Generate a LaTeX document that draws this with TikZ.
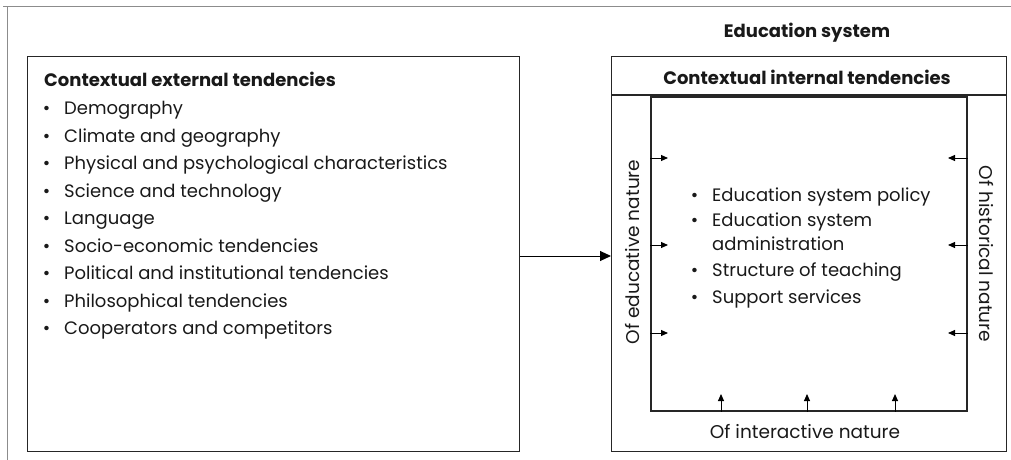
\documentclass[tikz,border=0pt]{standalone}
\usepackage{fontspec}
\setmainfont{Poppins}
\usetikzlibrary{arrows.meta}
\newcommand{\bul}{\llap{•\hspace{14pt}}}
\begin{document}
\begin{tikzpicture}[x=1pt,y=-1pt,
  box/.style={draw=black!85,line width=1.3pt},
  frame/.style={draw=black!45,line width=1pt},
  tip/.style={-{Triangle[length=7pt,width=6pt]},line width=1pt},
  item/.style={anchor=base west,font=\fontsize{18}{21}\selectfont,inner sep=0pt,text=black!90},
  lbl/.style={font=\fontsize{18.5}{21}\selectfont,inner sep=0pt,text=black!90},
  head/.style={font=\fontsize{18}{21}\selectfont\bfseries,inner sep=0pt,text=black!90}]
\useasboundingbox (0,0) rectangle (1011,460);
% open outer frame
\draw[frame] (3,7) -- (1011,7);
\draw[frame] (7,7) -- (7,460);
% left box: external tendencies
\node[box,minimum width=492pt,minimum height=395pt,anchor=north west] (ext) at (27,56) {};
\node[head,anchor=base west] (exth) at (44,86.5) {Contextual external tendencies};
\foreach \t [count=\i] in {Demography,Climate and geography,Physical and psychological characteristics,Science and technology,Language,Socio-economic tendencies,Political and institutional tendencies,Philosophical tendencies,Cooperators and competitors}
  \node[item] (e\i) at (64,{87+27.5*\i}) {\bul\t};
% right box: education system
\node[head] (sys) at (807,33) {Education system};
\node[box,minimum width=395pt,minimum height=395pt,anchor=north west] (edu) at (611,56) {};
\draw[box] (edu.west |- 0,95) -- (edu.east |- 0,95);
\node[head] (inth) at (807,77) {Contextual internal tendencies};
\node[box,line width=1.6pt,minimum width=316pt,minimum height=314pt,anchor=north west] (core) at (650,96) {};
% inner items
\node[item] (i1) at (712,201.5) {\bul Education system policy};
\node[item] (i2) at (712,226.5) {\bul Education system};
\node[item] (i2b) at (712,250.5) {administration};
\node[item] (i3) at (712,276.5) {\bul Structure of teaching};
\node[item] (i4) at (712,303.5) {\bul Support services};
% side labels
\node[lbl,rotate=90] (ledu) at (633,252) {Of educative nature};
\node[lbl,rotate=-90] (lhis) at (986,254) {Of historical nature};
\node[lbl] (lint) at (805,432) {Of interactive nature};
% main connector
\draw[line width=1pt,-{Triangle[length=11pt,width=10pt]}] (ext.east |- 0,256) -- (edu.west |- 0,256);
% small influence arrows
\foreach \y [count=\k] in {158,245,333}{
  \coordinate (la\k) at (668,\y);
  \coordinate (ra\k) at (948,\y);
  \draw[tip] (core.west |- la\k) -- (la\k);
  \draw[tip] (core.east |- ra\k) -- (ra\k);
}
\foreach \x [count=\k] in {721,807,895}{
  \coordinate (ba\k) at (\x,394);
  \draw[tip] (core.south -| ba\k) -- (ba\k);
}
\end{tikzpicture}
\end{document}
